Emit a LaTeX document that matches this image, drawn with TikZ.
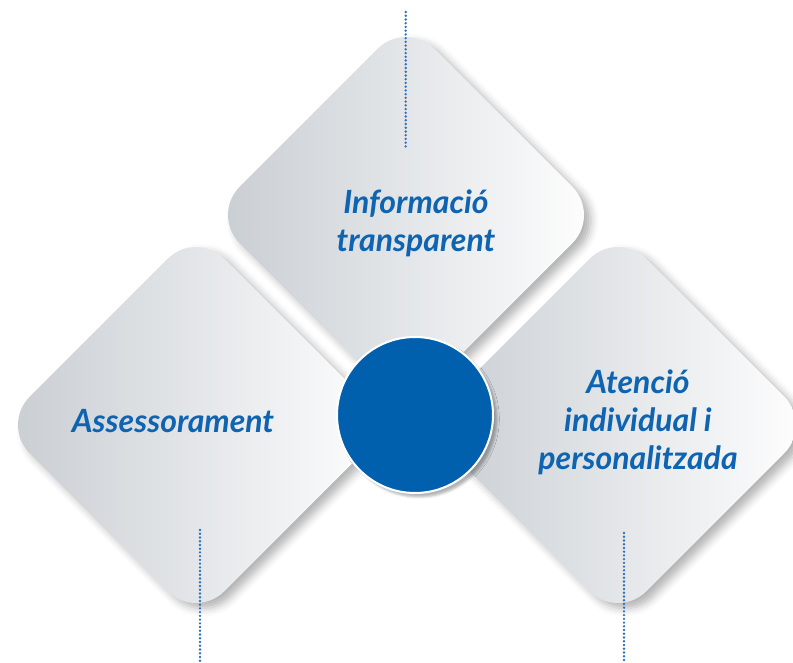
\documentclass[tikz,border=0pt]{standalone}
\usepackage{fontspec}
\newfontfamily\latofont{Lato}
\usetikzlibrary{shapes.geometric, shadows.blur}
\definecolor{tilegrey}{HTML}{C8CDD2}
\definecolor{hubblue}{HTML}{0060AD}
\definecolor{textblue}{HTML}{0E64B0}
\definecolor{dotblue}{HTML}{2F72BD}

\begin{document}
\begin{tikzpicture}[x=0.75pt,y=-0.75pt]
\tikzstyle{tile}=[diamond, aspect=1, minimum size=292pt, inner sep=0pt, rounded corners=30pt, left color=tilegrey, right color=white, blur shadow={shadow xshift=5pt, shadow yshift=-4pt, shadow blur radius=6pt, shadow opacity=30}]
\tikzstyle{caption}=[font=\latofont\bfseries\itshape\fontsize{24}{28.5}\selectfont, text=textblue, align=center]
\tikzstyle{leader}=[draw=dotblue, line width=2pt, line cap=round, dash pattern=on 0pt off 2.8pt]
\useasboundingbox (0,0) rectangle (793,663);
% tiles
\node[tile] (info) at (406,215) {};
\node[tile] (advice) at (196,425) {};
\node[tile] (care) at (618,425) {};
\node[circle, minimum size=117pt, fill=hubblue, draw=white, line width=1.5pt, blur shadow={shadow xshift=3pt, shadow yshift=-3pt, shadow opacity=30}] (hub) at (415,415) {};
% labels
\node[caption] (infotxt) at ([shift={(10,8)}]info.center) {Informació\\transparent};
\node[caption] (advicetxt) at ([shift={(-23,-4)}]advice.center) {Assessorament};
\node[caption] (caretxt) at ([shift={(20,-3)}]care.center) {Atenció\\individual i\\personalitzada};
% dotted leaders
\coordinate (infotop) at (405.7,12);
\coordinate (infoend) at (405.7,147);
\coordinate (advicetop) at (200,530);
\coordinate (adviceend) at (200,663);
\coordinate (caretop) at (624,533);
\coordinate (careend) at (624,663);
\path (infotop) edge [leader] (infoend)
      (advicetop) edge [leader] (adviceend)
      (caretop) edge [leader] (careend);
\end{tikzpicture}
\end{document}
